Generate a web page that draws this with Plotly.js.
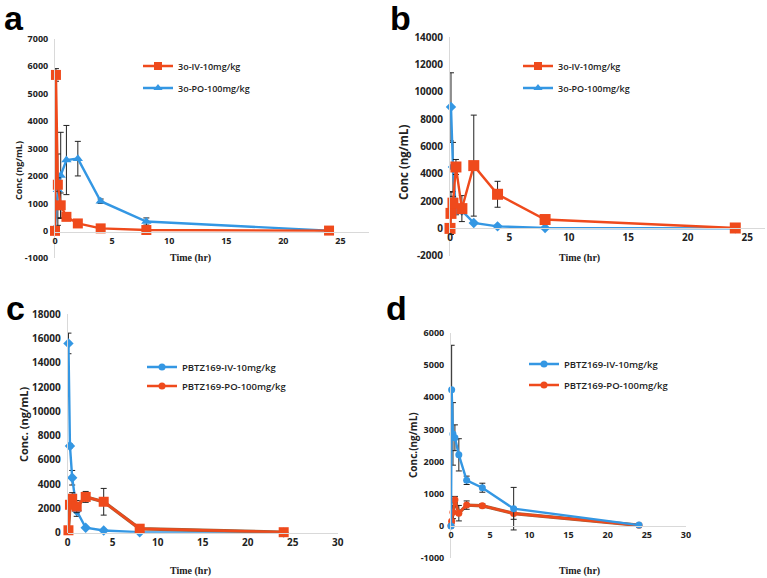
<!DOCTYPE html>
<html>
<head>
<meta charset="utf-8">
<script src="https://cdn.plot.ly/plotly-3.0.1.min.js"></script>
<style>html,body{margin:0;padding:0;background:#fff;}#chart{width:767px;height:578px;}</style>
</head>
<body>
<div id="chart"></div>
<script>
// ---- Panel a (3o) ----
const aTimeIV = [0, 0.083, 0.25, 0.5, 1, 2, 4, 8, 24];
const aIV = [0, 5680, 1680, 930, 510, 270, 90, 30, 10];
const aIVerr = [0, 230, 250, 450, 100, 60, 30, 10, 5];
const aTimePO = [0, 0.25, 0.5, 1, 2, 4, 8, 24];
const aPO = [100, 1500, 2020, 2580, 2630, 1080, 340, 10];
const aPOerr = [0, 1300, 1570, 1260, 630, 80, 130, 5];
const aYTicks = [-1000, 0, 1000, 2000, 3000, 4000, 5000, 6000, 7000];
const aYLabels = ['-1000', '0', '1000', '2000', '3000', '4000', '5000', '6000', '7000'];

// ---- Panel b (3o) ----
const bTimeIV = [0, 0.083, 0.25, 0.5, 1, 2, 4, 8, 24];
const bIV = [0, 1100, 1850, 4500, 1450, 4600, 2500, 650, 30];
const bIVerr = [0, 1550, 500, 550, 950, 3700, 950, 200, 10];
const bTimePO = [0.083, 0.25, 0.5, 1, 2, 4, 8, 24];
const bPO = [8900, 4500, 1300, 1300, 400, 150, 30, 0];
const bPOerr = [2500, 1800, 300, 200, 60, 30, 10, 0];
const bYTicks = [-2000, 0, 2000, 4000, 6000, 8000, 10000, 12000, 14000];
const bYLabels = ['-2000', '0', '2000', '4000', '6000', '8000', '10000', '12000', '14000'];

// ---- Panel c (PBTZ169) ----
const cTimeIV = [0.083, 0.25, 0.5, 1, 2, 4, 8, 24];
const cIV = [15600, 7150, 4530, 1800, 410, 180, 40, 10];
const cIVerr = [850, 150, 600, 450, 60, 40, 10, 0];
const cTimePO = [0.083, 0.25, 0.5, 1, 2, 4, 8, 24];
const cPO = [200, 2300, 2800, 2150, 2950, 2550, 330, 40];
const cPOerr = [100, 300, 500, 500, 450, 1100, 150, 20];
const cYTicks = [0, 2000, 4000, 6000, 8000, 10000, 12000, 14000, 16000, 18000];
const cYLabels = ['0', '2000', '4000', '6000', '8000', '10000', '12000', '14000', '16000', '18000'];

// ---- Panel d (PBTZ169) ----
const dTimeIV = [0, 0.083, 0.25, 0.5, 1, 2, 4, 8, 24];
const dIV = [0, 4230, 2860, 2740, 2210, 1420, 1190, 540, 30];
const dIVerr = [0, 1380, 970, 400, 500, 130, 140, 660, 0];
const dTimePO = [0, 0.083, 0.25, 0.5, 1, 2, 4, 8, 24];
const dPO = [10, 150, 430, 820, 400, 650, 630, 390, 25];
const dPOerr = [0, 60, 200, 100, 240, 130, 60, 180, 0];
const dYTicks = [-1000, 0, 1000, 2000, 3000, 4000, 5000, 6000];
const dYLabels = ['-1000', '0', '1000', '2000', '3000', '4000', '5000', '6000'];

const names = {
  a: ['3o-IV-10mg/kg', '3o-PO-100mg/kg'],
  c: ['PBTZ169-IV-10mg/kg', 'PBTZ169-PO-100mg/kg']
};
const xTicks = [0, 5, 10, 15, 20, 25, 30];

const W = 767, H = 578;
const px = x => x / W;
const py = y => 1 - y / H;

const ORANGE = '#EF4A1C';
const BLUE = '#3497E3';
const EDGE = '#A0603A';

function err(arr) {
  return {type: 'data', array: arr, visible: true, color: '#222', thickness: 1, width: 3};
}
function tr(x, y, e, xa, ya, color, symbol, size) {
  return {
    type: 'scatter', mode: 'lines+markers', x, y, error_y: err(e),
    xaxis: xa, yaxis: ya, showlegend: false, cliponaxis: false,
    line: {color, width: 2.4}, marker: {color, symbol, size}
  };
}
function legItem(name, legend, xa, ya, color, symbol, size) {
  return {type: 'scatter', mode: 'lines+markers', x: [null], y: [null], xaxis: xa, yaxis: ya,
    name, legend, showlegend: true,
    line: {color, width: 2.4}, marker: {color, symbol, size}};
}
function edge(x, y, xa, ya) {
  return {type: 'scatter', mode: 'lines', x, y, xaxis: xa, yaxis: ya, showlegend: false,
    cliponaxis: false, line: {color: EDGE, width: 3.4}, hoverinfo: 'skip'};
}

const data = [
  // a
  tr(aTimePO, aPO, aPOerr, 'x', 'y', BLUE, 'triangle-up', 9),
  tr(aTimeIV, aIV, aIVerr, 'x', 'y', ORANGE, 'square', 10),
  legItem(names.a[0], 'legend', 'x', 'y', ORANGE, 'square', 8),
  legItem(names.a[1], 'legend2', 'x', 'y', BLUE, 'triangle-up', 8),
  // b
  tr(bTimePO, bPO, bPOerr, 'x2', 'y2', BLUE, 'diamond', 8),
  tr(bTimeIV, bIV, bIVerr, 'x2', 'y2', ORANGE, 'square', 11),
  legItem(names.a[0], 'legend3', 'x2', 'y2', ORANGE, 'square', 8),
  legItem(names.a[1], 'legend4', 'x2', 'y2', BLUE, 'triangle-up', 8),
  // c
  tr(cTimeIV, cIV, cIVerr, 'x3', 'y3', BLUE, 'diamond', 8),
  edge(cTimePO, cPO, 'x3', 'y3'),
  tr(cTimePO, cPO, cPOerr, 'x3', 'y3', ORANGE, 'square', 10),
  legItem(names.c[0], 'legend5', 'x3', 'y3', BLUE, 'circle', 7),
  legItem(names.c[1], 'legend6', 'x3', 'y3', ORANGE, 'circle', 7),
  // d
  edge(dTimePO, dPO, 'x4', 'y4'),
  tr(dTimePO, dPO, dPOerr, 'x4', 'y4', ORANGE, 'circle', 7),
  tr(dTimeIV, dIV, dIVerr, 'x4', 'y4', BLUE, 'circle', 7),
  legItem(names.c[0], 'legend7', 'x4', 'y4', BLUE, 'circle', 7),
  legItem(names.c[1], 'legend8', 'x4', 'y4', ORANGE, 'circle', 7)
];

const tickFont = s => ({family: 'Open Sans', size: s, weight: 700, color: '#222'});
const LINE = '#d9d9d9';

function xax(dom, range, posY, fs) {
  return {domain: dom, range, anchor: 'free', position: posY, showline: true, linecolor: LINE,
    linewidth: 1, showgrid: false, zeroline: false, ticks: '', tickvals: xTicks,
    tickfont: tickFont(fs), fixedrange: true};
}
function yax(dom, range, tv, tt, anchor, fs) {
  return {domain: dom, range, tickvals: tv, ticktext: tt, anchor, showline: true, linecolor: LINE,
    linewidth: 1, showgrid: false, zeroline: false, ticks: '', ticklabelstandoff: 4,
    tickfont: tickFont(fs), fixedrange: true};
}
function leg(x, y, s) {
  return {x: px(x), y: py(y), xanchor: 'left', yanchor: 'middle', bgcolor: 'rgba(0,0,0,0)',
    borderwidth: 0, itemwidth: 30,
    font: {family: 'Open Sans', size: s, weight: 600, color: '#222'}};
}
function ann(text, x, y, size, opts) {
  return Object.assign({text, x: px(x), y: py(y), xref: 'paper', yref: 'paper', showarrow: false,
    xanchor: 'center', yanchor: 'middle',
    font: {family: 'Open Sans', size, weight: 700, color: '#222'}}, opts || {});
}
const serif = s => ({family: 'Liberation Serif', size: s, weight: 700, color: '#222'});
const letter = {family: 'Liberation Sans', size: 34, weight: 700, color: '#000'};

const layout = {
  width: W, height: H, margin: {l: 0, r: 0, t: 0, b: 0},
  paper_bgcolor: '#fff', plot_bgcolor: 'rgba(0,0,0,0)', showlegend: true,
  xaxis: xax([px(55), px(369)], [0, 27.5], py(231.7), 9),
  yaxis: yax([py(258.3), py(38.7)], [-1000, 7000], aYTicks, aYLabels, 'x', 9),
  xaxis2: xax([px(450), px(765)], [0, 26.5], py(228), 10),
  yaxis2: yax([py(255.7), py(37.3)], [-2000, 14000], bYTicks, bYLabels, 'x2', 10),
  xaxis3: xax([px(67.7), px(337.7)], [0, 30], py(532.7), 10),
  yaxis3: yax([py(532.7), py(314.3)], [0, 18000], cYTicks, cYLabels, 'x3', 10),
  xaxis4: xax([px(451), px(686)], [0, 30], py(525.7), 9),
  yaxis4: yax([py(558.3), py(332.7)], [-1000, 6000], dYTicks, dYLabels, 'x4', 9),
  legend: leg(138, 66, 9),
  legend2: leg(138, 88, 9),
  legend3: leg(518, 66, 9),
  legend4: leg(518, 88, 9),
  legend5: leg(142, 367, 9.5),
  legend6: leg(142, 386, 9.5),
  legend7: leg(524, 364, 9.5),
  legend8: leg(524, 385, 9.5),
  annotations: [
    ann('a', 14, 18, 34, {font: letter}),
    ann('b', 400, 18, 34, {font: letter}),
    ann('c', 15, 308, 34, {font: letter}),
    ann('d', 396, 308, 34, {font: letter}),
    ann('Conc (ng/mL)', 18, 171, 9, {textangle: -90}),
    ann('Conc (ng/mL)', 403, 163, 11.5, {textangle: -90}),
    ann('Conc. (ng/mL)', 23, 425, 11, {textangle: -90}),
    ann('Conc.(ng/mL)', 413, 445, 10, {textangle: -90}),
    ann('Time (hr)', 190, 258, 10, {font: serif(10)}),
    ann('Time (hr)', 579, 258, 10, {font: serif(10)}),
    ann('Time (hr)', 190, 571, 10, {font: serif(10)}),
    ann('Time (hr)', 579, 571, 10, {font: serif(10)})
  ]
};

Plotly.newPlot('chart', data, layout, {staticPlot: true, displayModeBar: false});
</script>
</body>
</html>
